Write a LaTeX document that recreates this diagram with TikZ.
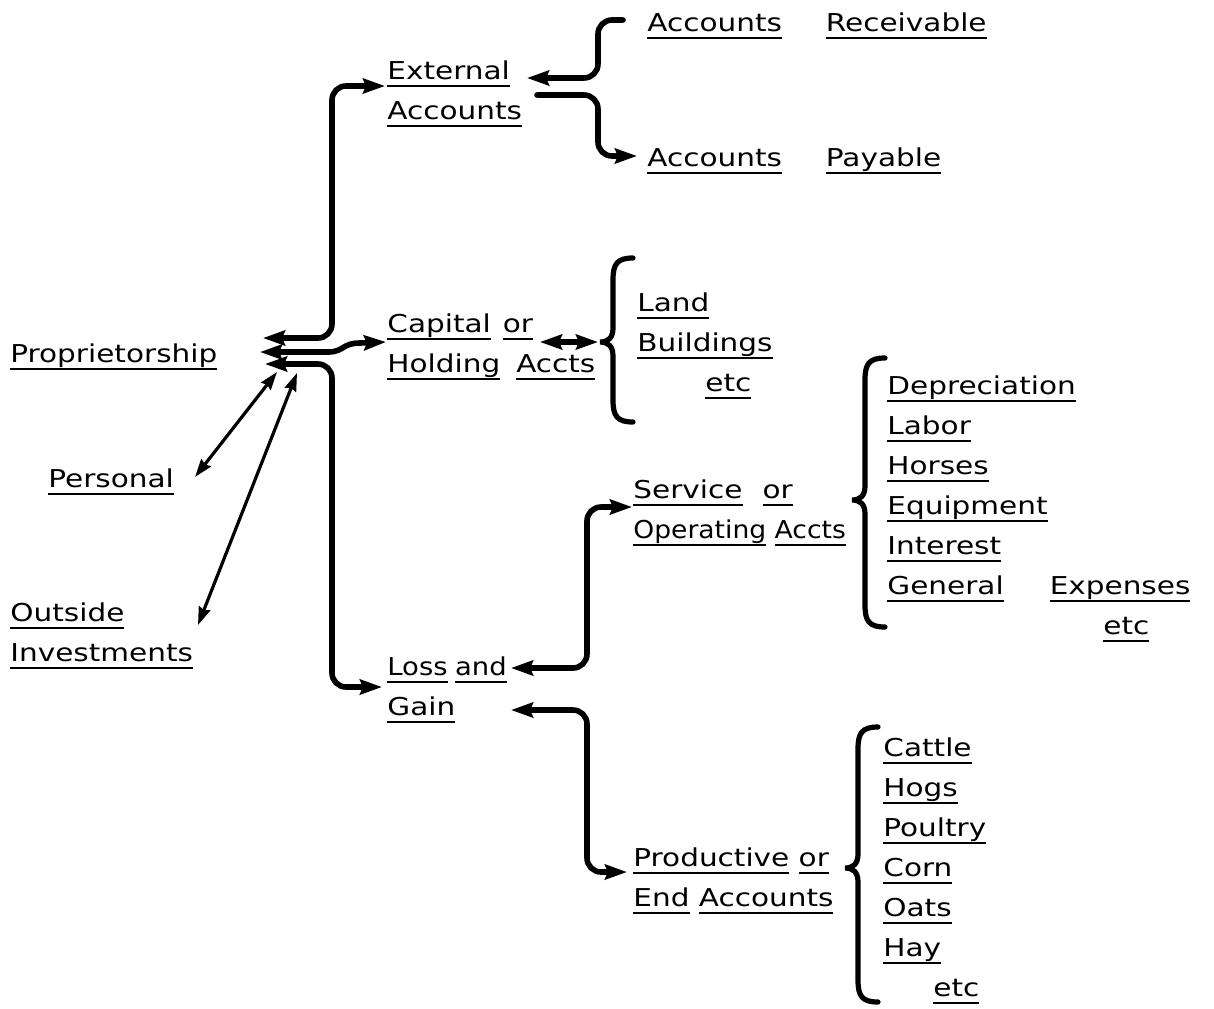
\documentclass[tikz,border=0pt]{standalone}
\usepackage{fontspec}
\setmainfont[FakeStretch=1.2]{DejaVu Sans}
\usetikzlibrary{arrows.meta}

\newsavebox{\ulbox}
\newcommand{\ulw}[1]{\sbox{\ulbox}{#1}\rlap{\rule[-3.6pt]{\wd\ulbox}{1pt}}\usebox{\ulbox}}
\newcommand{\lettering}{\fontsize{12.3}{20}\selectfont}
% curly brace: spine x, top y, tip y, bottom y
\newcommand{\curly}[4]{%
  \draw[brc] ({#1+20},#2) .. controls ({#1+4},#2) and (#1,{#2+6}) .. (#1,{#2+22})
    -- (#1,{#3-14}) .. controls (#1,{#3-4}) and ({#1-5},#3) .. ({#1-13},#3)
    .. controls ({#1-5},#3) and (#1,{#3+4}) .. (#1,{#3+14})
    -- (#1,{#4-22}) .. controls (#1,{#4-6}) and ({#1+4},#4) .. ({#1+20},#4);}

\tikzset{
  lbl/.style={anchor=west, inner sep=0pt, align=left, font=\lettering},
  link/.style={line width=2.8pt, line cap=round, rounded corners=7pt,
    >={Stealth[length=11pt,width=7.5pt,inset=1.5pt]}},
  thinlink/.style={line width=1.6pt, line cap=round,
    >={Stealth[length=9pt,width=6pt,inset=1pt]}},
  brc/.style={line width=2.6pt, line cap=round},
}

\begin{document}
\begin{tikzpicture}[x=0.5pt,y=-0.5pt]
  \useasboundingbox (0,0) rectangle (1214,1008);

  % Left column
  \node[lbl] (prop) at (10,357) {\ulw{Proprietorship}};
  \node[lbl] (pers) at (48,482) {\ulw{Personal}};
  \node[lbl] (outs) at (10,636) {\ulw{Outside}\\\ulw{Investments}};

  % Middle column
  \node[lbl] (ext) at (387,94) {\ulw{External}\\\ulw{Accounts}};
  \node[lbl] (cap) at (387,347) {\ulw{Capital}\hspace{6pt}\ulw{or}\\\ulw{Holding}\hspace{8pt}\ulw{Accts}};
  \node[lbl] (loss) at (387,690) {\scalebox{0.93}[1]{\ulw{Loss}\hspace{4pt}\ulw{and}}\\\ulw{Gain}};

  % Right column
  \node[lbl] (recv) at (647,26) {\ulw{Accounts}\hspace{22pt}\ulw{Receivable}};
  \node[lbl] (pay) at (647,161) {\ulw{Accounts}\hspace{22pt}\ulw{Payable}};
  \node[lbl] (land) at (637,346) {\ulw{Land}\\\ulw{Buildings}\\\hspace*{34pt}\ulw{etc}};
  \node[lbl] (svc) at (633,513) {\ulw{Service}\hspace{10pt}\ulw{or}\\\scalebox{0.9}[1]{\ulw{Operating} \ulw{Accts}}};
  \node[lbl] (prod) at (633,881) {\ulw{Productive} \ulw{or}\\\ulw{End} \ulw{Accounts}};

  % Lists behind the braces
  \node[lbl] (svclist) at (887,509) {\ulw{Depreciation}\\\ulw{Labor}\\\ulw{Horses}\\\ulw{Equipment}\\\ulw{Interest}\\\ulw{General}\hspace{23pt}\ulw{Expenses}\\\hspace*{108pt}\ulw{etc}};
  \node[lbl] (prodlist) at (883,871) {\ulw{Cattle}\\\ulw{Hogs}\\\ulw{Poultry}\\\ulw{Corn}\\\ulw{Oats}\\\ulw{Hay}\\\hspace*{25pt}\ulw{etc}};

  % Braces
  \curly{613}{258}{342}{422}
  \curly{865}{358}{500}{627}
  \curly{858}{727}{868}{1002}

  % End points of the connectors
  \coordinate (hubA) at (263,338);
  \coordinate (hubB) at (260,352);
  \coordinate (hubC) at (265,364);
  \coordinate (hubP) at (277,372);
  \coordinate (hubO) at (297,373);
  \coordinate (persEnd) at (195,477);
  \coordinate (outsEnd) at (198,625);
  \coordinate (spineTop) at (332,86);
  \coordinate (spineBot) at (332,687);
  \coordinate (extIn) at (385,86);
  \coordinate (capIn) at (386,342);
  \coordinate (lossIn) at (382,687);
  \coordinate (extOutA) at (527,78);
  \coordinate (extOutB) at (537,95);
  \coordinate (recvBend) at (598,20);
  \coordinate (recvEnd) at (623,20);
  \coordinate (payBend) at (598,156);
  \coordinate (payIn) at (637,156);
  \coordinate (capOut) at (540,342);
  \coordinate (landTip) at (598,342);
  \coordinate (lossOut) at (511,668);
  \coordinate (gainOut) at (511,710);
  \coordinate (svcBend) at (587,507);
  \coordinate (svcIn) at (632,507);
  \coordinate (prodBend) at (587,872);
  \coordinate (prodIn) at (627,872);

  % Proprietorship to the three groups
  \draw[link,<->] (hubA) -| (spineTop) -- (extIn);
  \draw[link,<->,rounded corners=0pt] (hubB) -- (328,352) .. controls (344,352) and (342,343) .. (360,343) -- (capIn);
  \draw[link,<->] (hubC) -| (spineBot) -- (lossIn);
  \draw[thinlink,<->] (persEnd) -- (hubP);
  \draw[thinlink,<->] (outsEnd) -- (hubO);

  % External accounts
  \draw[link,<-] (extOutA) -| (recvBend) -- (recvEnd);
  \draw[link,->] (extOutB) -| (payBend) -- (payIn);

  % Capital accounts
  \draw[link,<->] (capOut) -- (landTip);

  % Loss and gain
  \draw[link,<->] (lossOut) -| (svcBend) -- (svcIn);
  \draw[link,<->] (gainOut) -| (prodBend) -- (prodIn);
\end{tikzpicture}
\end{document}
